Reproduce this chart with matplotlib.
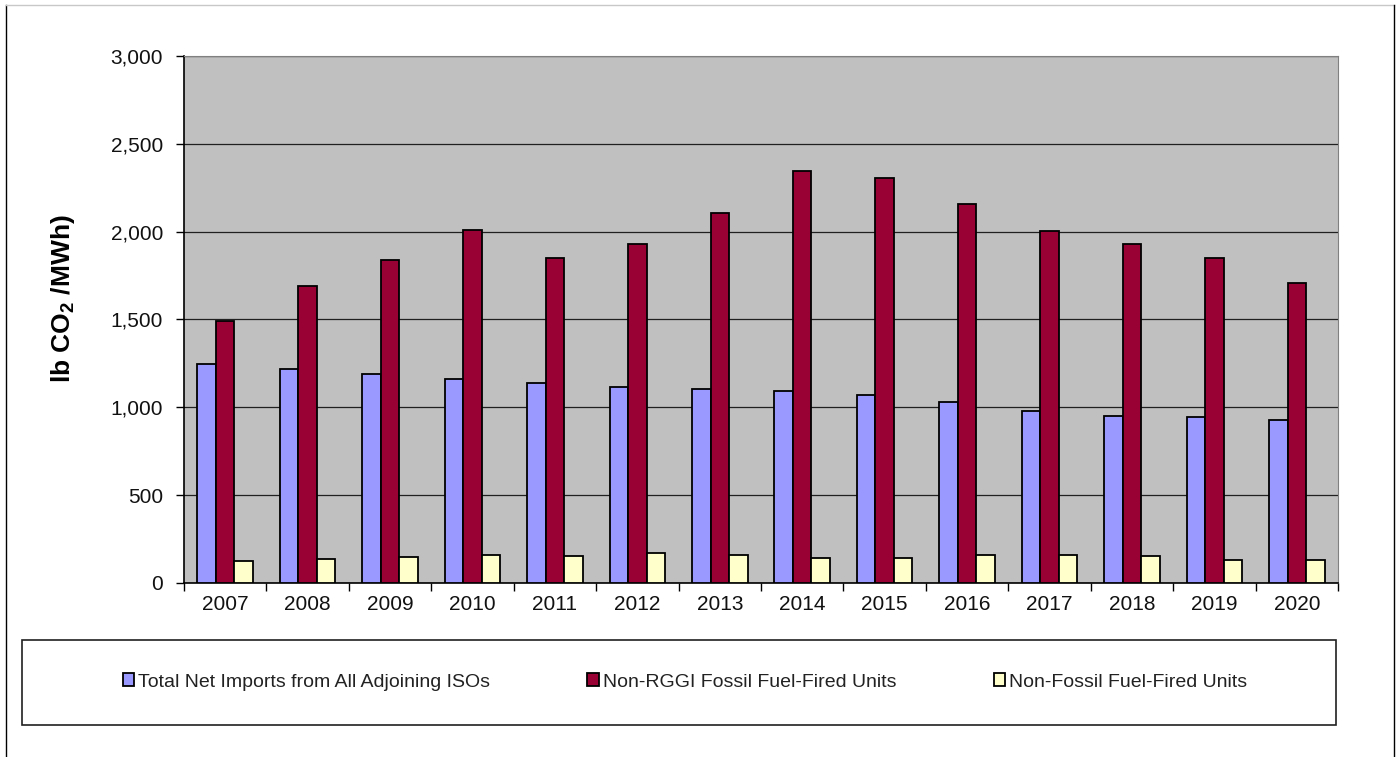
import matplotlib.pyplot as plt
from matplotlib.lines import Line2D
from matplotlib.patches import Rectangle, Patch
import numpy as np

plt.rcParams['font.family'] = ['Liberation Sans', 'DejaVu Sans']
plt.rcParams['mathtext.fontset'] = 'custom'
plt.rcParams['mathtext.rm'] = 'Liberation Sans'
plt.rcParams['mathtext.bf'] = 'Liberation Sans:bold'

years = ['2007', '2008', '2009', '2010', '2011', '2012', '2013',
         '2014', '2015', '2016', '2017', '2018', '2019', '2020']
net_imports = [1248, 1221, 1187, 1162, 1139, 1116, 1104,
               1095, 1073, 1029, 979, 953, 943, 928]
non_rggi_fossil = [1493, 1690, 1838, 2007, 1852, 1932, 2106,
                   2345, 2305, 2155, 2004, 1932, 1850, 1705]
non_fossil = [124, 139, 147, 157, 156, 171, 157,
              145, 145, 157, 158, 152, 130, 130]
series_names = ['Total Net Imports from All Adjoining ISOs',
                'Non-RGGI Fossil Fuel-Fired Units',
                'Non-Fossil Fuel-Fired Units']
colors = ['#9999FF', '#990033', '#FFFFCC']
y_ticks = [0, 500, 1000, 1500, 2000, 2500, 3000]

fig = plt.figure(figsize=(14, 7.57), dpi=100)
ax = fig.add_axes([184 / 1400, 1 - 583 / 757, 1154 / 1400, 527 / 757])
ax.set_facecolor('#C0C0C0')

x = np.arange(len(years))
w = 0.225
for k, vals in enumerate([net_imports, non_rggi_fossil, non_fossil]):
    ax.bar(x + (k - 1) * w, vals, width=w, color=colors[k],
           edgecolor='black', linewidth=1.3, zorder=3)

ax.set_xlim(-0.5, len(years) - 0.5)
ax.set_ylim(0, 3000)
ax.set_yticks(y_ticks)
ax.set_yticklabels([f'{v:,}' for v in y_ticks])
ax.grid(axis='y', color='#202020', linewidth=0.9, zorder=1)

ax.set_xticks(x)
ax.set_xticklabels(years)
ax.set_xticks(np.arange(-0.5, len(years)), minor=True)
ax.tick_params(axis='x', which='major', length=0, pad=9, labelsize=15,
               labelcolor='#111111')
ax.tick_params(axis='x', which='minor', length=6, width=1, direction='out')
ax.tick_params(axis='y', length=6, width=1, direction='out', pad=9,
               labelsize=15, labelcolor='#111111')

for side in ['top', 'right']:
    ax.spines[side].set_color('#808080')
for side in ['left', 'bottom']:
    ax.spines[side].set_color('black')
    ax.spines[side].set_linewidth(1.2)

ax.set_ylabel(r'lb CO$_{\mathbf{2}}$ /MWh)', fontsize=19, fontweight='bold')
ax.yaxis.set_label_coords(-0.093, 0.54)

# legend box below the chart
fig.patches.append(Rectangle((22 / 1400, 1 - 725 / 757), 1314 / 1400, 85 / 757,
                             transform=fig.transFigure, facecolor='white',
                             edgecolor='#202020', linewidth=1.2))
handles = [Patch(facecolor=c, edgecolor='black', linewidth=1.3) for c in colors]
fig.legend(handles, series_names, loc='center', ncol=3,
           bbox_to_anchor=(685 / 1400, 1 - 682 / 757), frameon=False,
           fontsize=14, handlelength=0.6, handleheight=0.6,
           handletextpad=0.2, columnspacing=5.0, labelcolor='#222222')

# outer frame of the figure
fig.add_artist(Line2D([6 / 1400, 6 / 1400], [0, 1 - 5 / 757],
                      transform=fig.transFigure, color='black', linewidth=1))
fig.add_artist(Line2D([6 / 1400, 1394 / 1400], [1 - 5 / 757, 1 - 5 / 757],
                      transform=fig.transFigure, color='#C8C8C8', linewidth=1))
fig.add_artist(Line2D([1394 / 1400, 1394 / 1400], [0, 1 - 5 / 757],
                      transform=fig.transFigure, color='black', linewidth=1))

fig.savefig('out.png', dpi=100)
